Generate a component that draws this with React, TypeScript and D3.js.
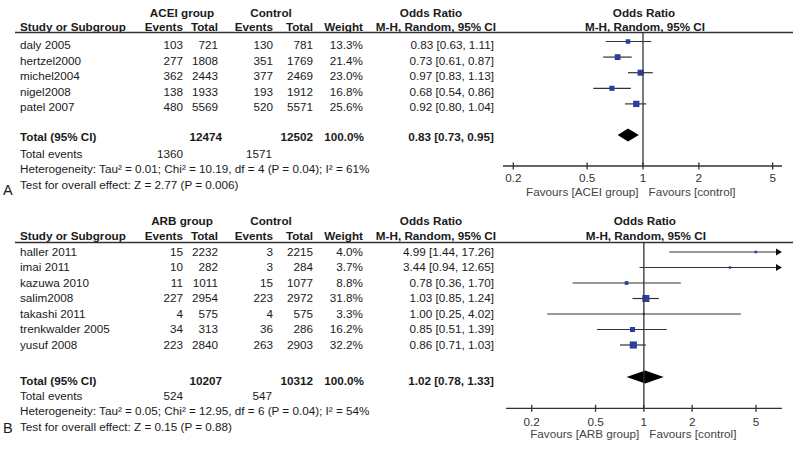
import React from "react";
import * as d3 from "d3";

// ---------- Panel A data ----------
const studiesA = ["daly 2005", "hertzel2000", "michel2004", "nigel2008", "patel 2007"];
const expEventsA = [103, 277, 362, 138, 480];
const expTotalA = [721, 1808, 2443, 1933, 5569];
const ctlEventsA = [130, 351, 377, 193, 520];
const ctlTotalA = [781, 1769, 2469, 1912, 5571];
const weightA = [13.3, 21.4, 23.0, 16.8, 25.6];
const orA = [0.83, 0.73, 0.97, 0.68, 0.92];
const lowA = [0.63, 0.61, 0.83, 0.54, 0.8];
const highA = [1.11, 0.87, 1.13, 0.86, 1.04];
const totalA = { expTotal: 12474, ctlTotal: 12502, or: 0.83, low: 0.73, high: 0.95, expEvents: 1360, ctlEvents: 1571 };
const hetA = "Heterogeneity: Tau² = 0.01; Chi² = 10.19, df = 4 (P = 0.04); I² = 61%";
const testA = "Test for overall effect: Z = 2.77 (P = 0.006)";

// ---------- Panel B data ----------
const studiesB = ["haller 2011", "imai 2011", "kazuwa 2010", "salim2008", "takashi 2011", "trenkwalder 2005", "yusuf 2008"];
const expEventsB = [15, 10, 11, 227, 4, 34, 223];
const expTotalB = [2232, 282, 1011, 2954, 575, 313, 2840];
const ctlEventsB = [3, 3, 15, 223, 4, 36, 263];
const ctlTotalB = [2215, 284, 1077, 2972, 575, 286, 2903];
const weightB = [4.0, 3.7, 8.8, 31.8, 3.3, 16.2, 32.2];
const orB = [4.99, 3.44, 0.78, 1.03, 1.0, 0.85, 0.86];
const lowB = [1.44, 0.94, 0.36, 0.85, 0.25, 0.51, 0.71];
const highB = [17.26, 12.65, 1.7, 1.24, 4.02, 1.39, 1.03];
const totalB = { expTotal: 10207, ctlTotal: 10312, or: 1.02, low: 0.78, high: 1.33, expEvents: 524, ctlEvents: 547 };
const hetB = "Heterogeneity: Tau² = 0.05; Chi² = 12.95, df = 6 (P = 0.04); I² = 54%";
const testB = "Test for overall effect: Z = 0.15 (P = 0.88)";

const axisTicks = [0.2, 0.5, 1, 2, 5];
const tickLabels = ["0.2", "0.5", "1", "2", "5"];

const FONT = "'Liberation Sans', Arial, Helvetica, sans-serif";
const FS = 11.7;
const TEXT = "#1a1a1a";
const LINE = "#333";
const BLUE = "#2b3fa0";

type PanelProps = {
  letter: string;
  groupName: string;
  favourLeft: string;
  studies: string[];
  expEvents: number[];
  expTotal: number[];
  ctlEvents: number[];
  ctlTotal: number[];
  weight: number[];
  or: number[];
  low: number[];
  high: number[];
  total: typeof totalA;
  het: string;
  test: string;
  lay: {
    h1Y: number; h2Y: number; lineY: number; row0: number; step: number; markerOff: number;
    totalY: number; diamondY: number; evY: number; hetY: number; testY: number;
    axisY: number; tickY: number; favY: number; letterY: number;
    range: [number, number]; axisX: [number, number];
  };
};

const fmt2 = (v: number) => v.toFixed(2);

function Panel(p: PanelProps) {
  const L = p.lay;
  const x = d3.scaleLog().domain([0.2, 5]).range(L.range);
  const x1 = x(1);
  const col = { study: 20, ev1: 183, tot1: 218, ev2: 273, tot2: 313, w: 363, or: 494 };
  const rowY = (i: number) => L.row0 + i * L.step;
  const tx = (props: any, s: string | number, key?: any) => (
    <text key={key} fontFamily={FONT} fontSize={FS} fill={TEXT} {...props}>{s}</text>
  );
  const diamond = `M${x(p.total.low)},${L.diamondY} L${x(p.total.or)},${L.diamondY - 6.5} L${x(p.total.high)},${L.diamondY} L${x(p.total.or)},${L.diamondY + 6.5} Z`;
  return (
    <g>
      {/* header row 1 */}
      {tx({ x: 182, y: L.h1Y, textAnchor: "middle", fontWeight: "bold" }, p.groupName)}
      {tx({ x: 271, y: L.h1Y, textAnchor: "middle", fontWeight: "bold" }, "Control")}
      {tx({ x: 431, y: L.h1Y, textAnchor: "middle", fontWeight: "bold" }, "Odds Ratio")}
      {tx({ x: x1 + 1, y: L.h1Y, textAnchor: "middle", fontWeight: "bold" }, "Odds Ratio")}
      {/* header row 2 */}
      {tx({ x: col.study, y: L.h2Y, fontWeight: "bold" }, "Study or Subgroup")}
      {tx({ x: col.ev1, y: L.h2Y, textAnchor: "end", fontWeight: "bold" }, "Events")}
      {tx({ x: col.tot1, y: L.h2Y, textAnchor: "end", fontWeight: "bold" }, "Total")}
      {tx({ x: col.ev2, y: L.h2Y, textAnchor: "end", fontWeight: "bold" }, "Events")}
      {tx({ x: col.tot2, y: L.h2Y, textAnchor: "end", fontWeight: "bold" }, "Total")}
      {tx({ x: col.w, y: L.h2Y, textAnchor: "end", fontWeight: "bold" }, "Weight")}
      {tx({ x: col.or + 2, y: L.h2Y, textAnchor: "end", fontWeight: "bold" }, "M-H, Random, 95% CI")}
      {tx({ x: x1 + 2, y: L.h2Y, textAnchor: "middle", fontWeight: "bold" }, "M-H, Random, 95% CI")}
      <line x1={15} x2={793} y1={L.lineY} y2={L.lineY} stroke={LINE} strokeWidth={1.5} />

      {/* study rows */}
      {p.studies.map((s, i) => {
        const y = rowY(i);
        const my = y + L.markerOff;
        const lo = x(p.low[i]);
        const hiRaw = x(p.high[i]);
        const clipped = hiRaw > L.axisX[1];
        const hi = clipped ? L.axisX[1] : hiRaw;
        const side = 1.25 * Math.sqrt(p.weight[i]);
        return (
          <g key={s}>
            {tx({ x: col.study, y }, s)}
            {tx({ x: col.ev1, y, textAnchor: "end" }, p.expEvents[i])}
            {tx({ x: col.tot1, y, textAnchor: "end" }, p.expTotal[i])}
            {tx({ x: col.ev2, y, textAnchor: "end" }, p.ctlEvents[i])}
            {tx({ x: col.tot2, y, textAnchor: "end" }, p.ctlTotal[i])}
            {tx({ x: col.w, y, textAnchor: "end" }, p.weight[i].toFixed(1) + "%")}
            {tx({ x: col.or, y, textAnchor: "end" }, `${fmt2(p.or[i])} [${fmt2(p.low[i])}, ${fmt2(p.high[i])}]`)}
            <line x1={lo} x2={clipped ? hi - 5 : hi} y1={my} y2={my} stroke={LINE} strokeWidth={1.2} />
            {clipped && <path d={`M${hi},${my} L${hi - 6},${my - 3.5} L${hi - 6},${my + 3.5} Z`} fill="#111" />}
            <rect x={x(p.or[i]) - side / 2} y={my - side / 2} width={side} height={side} fill={BLUE} />
          </g>
        );
      })}

      {/* totals */}
      {tx({ x: col.study, y: L.totalY, fontWeight: "bold" }, "Total (95% CI)")}
      {tx({ x: col.tot1 + 4, y: L.totalY, textAnchor: "end", fontWeight: "bold" }, p.total.expTotal)}
      {tx({ x: col.tot2, y: L.totalY, textAnchor: "end", fontWeight: "bold" }, p.total.ctlTotal)}
      {tx({ x: col.w + 1, y: L.totalY, textAnchor: "end", fontWeight: "bold" }, "100.0%")}
      {tx({ x: col.or, y: L.totalY, textAnchor: "end", fontWeight: "bold" }, `${fmt2(p.total.or)} [${fmt2(p.total.low)}, ${fmt2(p.total.high)}]`)}
      <path d={diamond} fill="#000" />
      {tx({ x: col.study, y: L.evY }, "Total events")}
      {tx({ x: col.ev1, y: L.evY, textAnchor: "end" }, p.total.expEvents)}
      {tx({ x: col.ev2 - 1, y: L.evY, textAnchor: "end" }, p.total.ctlEvents)}
      {tx({ x: col.study, y: L.hetY }, p.het)}
      {tx({ x: col.study, y: L.testY }, p.test)}
      <text x={3} y={L.letterY} fontFamily={FONT} fontSize={14.5} fill={TEXT}>{p.letter}</text>

      {/* plot */}
      <line x1={x1} x2={x1} y1={L.lineY} y2={L.axisY} stroke={LINE} strokeWidth={1.3} />
      <line x1={L.axisX[0]} x2={L.axisX[1]} y1={L.axisY} y2={L.axisY} stroke={LINE} strokeWidth={1.3} />
      {axisTicks.map((t, i) => (
        <g key={t}>
          <line x1={x(t)} x2={x(t)} y1={L.axisY - 3.5} y2={L.axisY + 3.5} stroke={LINE} strokeWidth={1.3} />
          {tx({ x: x(t), y: L.tickY, textAnchor: "middle", fill: "#333" }, tickLabels[i])}
        </g>
      ))}
      {tx({ x: x1 - 4.5, y: L.favY, textAnchor: "end", fill: "#444" }, p.favourLeft)}
      {tx({ x: x1 + 5.5, y: L.favY, fill: "#444" }, "Favours [control]")}
    </g>
  );
}

export default function App() {
  return (
    <svg width={800} height={450} style={{ position: "absolute", left: 0, top: 0, background: "#fff" }}>
      <rect width={800} height={450} fill="#fff" />
      <Panel
        letter="A" groupName="ACEI group" favourLeft="Favours [ACEI group]"
        studies={studiesA} expEvents={expEventsA} expTotal={expTotalA} ctlEvents={ctlEventsA}
        ctlTotal={ctlTotalA} weight={weightA} or={orA} low={lowA} high={highA}
        total={totalA} het={hetA} test={testA}
        lay={{
          h1Y: 16.5, h2Y: 30.5, lineY: 32.5, row0: 49, step: 15.6, markerOff: -7.5,
          totalY: 141, diamondY: 135, evY: 157.5, hetY: 173, testY: 189,
          axisY: 166, tickY: 182, favY: 196, letterY: 194.5,
          range: [513.3, 772.7], axisX: [503, 782],
        }}
      />
      <Panel
        letter="B" groupName="ARB group" favourLeft="Favours [ARB group]"
        studies={studiesB} expEvents={expEventsB} expTotal={expTotalB} ctlEvents={ctlEventsB}
        ctlTotal={ctlTotalB} weight={weightB} or={orB} low={lowB} high={highB}
        total={totalB} het={hetB} test={testB}
        lay={{
          h1Y: 224.5, h2Y: 239.5, lineY: 242.5, row0: 255.5, step: 15.5, markerOff: -3.5,
          totalY: 384.5, diamondY: 377, evY: 400, hetY: 415, testY: 431,
          axisY: 408.3, tickY: 425.5, favY: 437.5, letterY: 432.5,
          range: [531.7, 756], axisX: [506, 782],
        }}
      />
    </svg>
  );
}
